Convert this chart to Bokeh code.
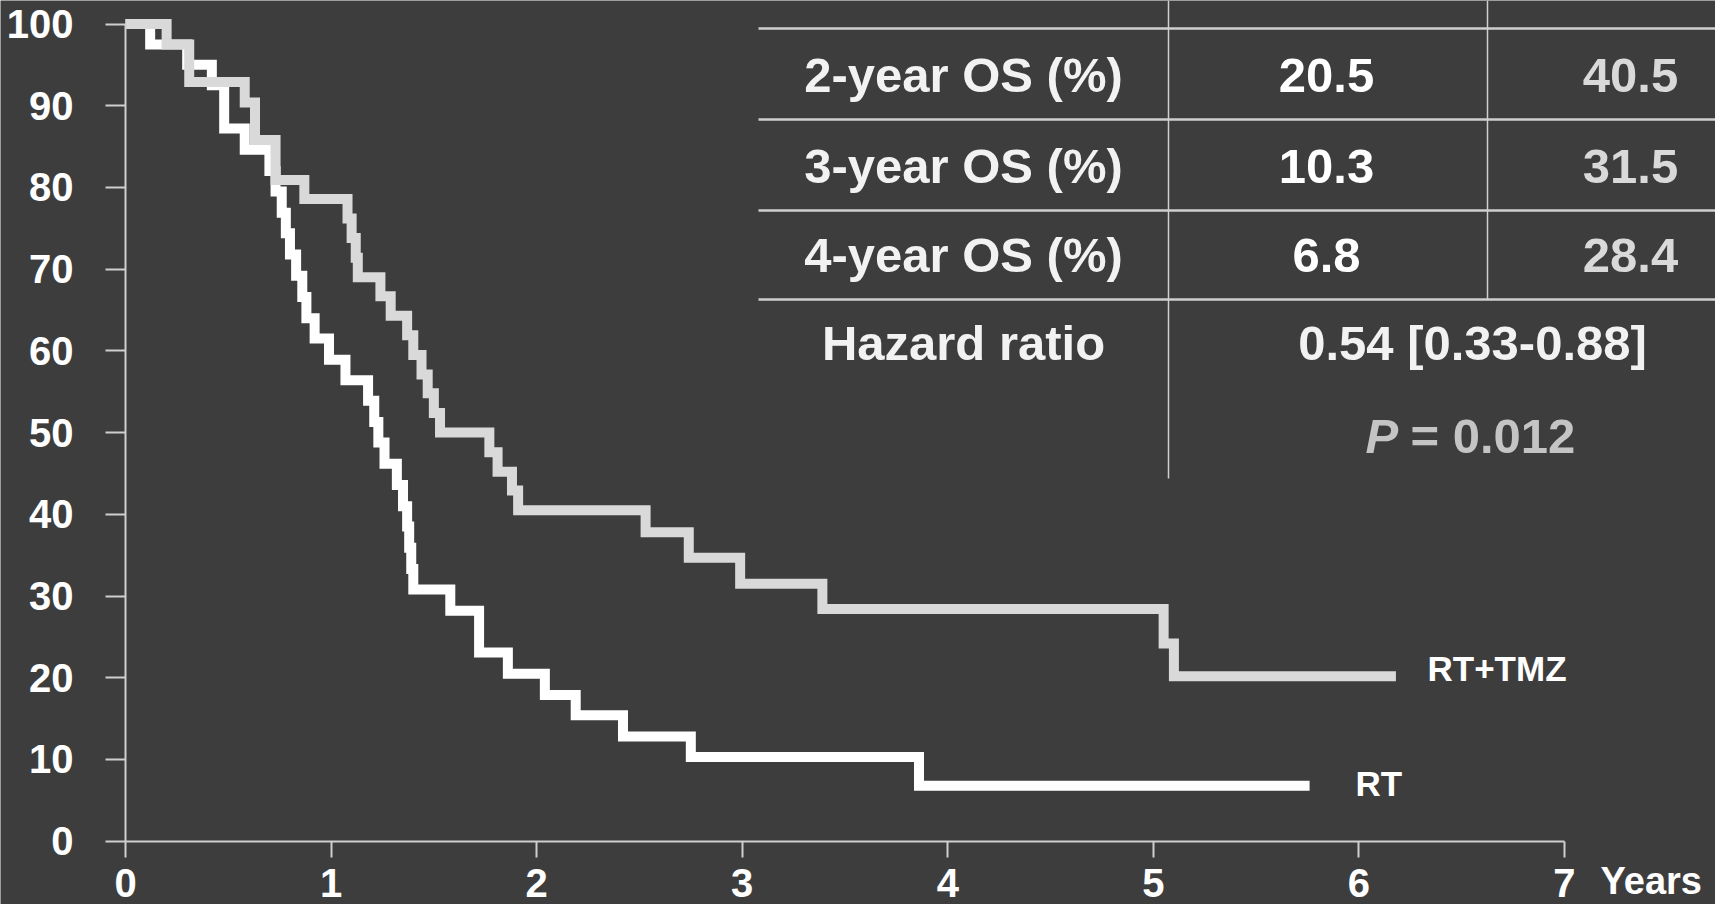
from bokeh.plotting import figure
from bokeh.models import Range1d, LinearAxis, FixedTicker
from bokeh.embed import file_html
from bokeh.resources import INLINE
from bokeh.core.properties import value

# ---------------- data ----------------
series_names = ["RT", "RT+TMZ"]

rt_time = [0, 0.12, 0.30, 0.42, 0.48, 0.58, 0.70, 0.73, 0.76, 0.78, 0.80, 0.83,
           0.86, 0.88, 0.92, 0.99, 1.07, 1.18, 1.21, 1.23, 1.26, 1.32, 1.35, 1.37,
           1.38, 1.39, 1.40, 1.58, 1.72, 1.86, 2.04, 2.19, 2.42, 2.75, 3.86, 5.76]
rt_surv = [100, 97.5, 95.0, 92.5, 87.2, 84.6, 82.0, 79.5, 76.9, 74.4, 71.8, 69.2,
           66.6, 64.0, 61.5, 58.9, 56.4, 53.9, 51.3, 48.8, 46.2, 43.6, 41.0, 38.5,
           35.9, 33.3, 30.8, 28.2, 23.1, 20.5, 17.9, 15.4, 12.8, 10.3, 6.8, 6.8]

tmz_time = [0, 0.20, 0.31, 0.58, 0.63, 0.73, 0.87, 1.08, 1.10, 1.12, 1.13, 1.24,
            1.29, 1.37, 1.40, 1.44, 1.47, 1.50, 1.53, 1.77, 1.81, 1.88, 1.91, 2.53,
            2.74, 2.99, 3.39, 5.05, 5.10, 6.18]
tmz_surv = [100, 97.5, 92.9, 90.4, 85.8, 80.9, 78.6, 76.2, 73.8, 71.4, 69.0, 66.7,
            64.3, 61.9, 59.5, 57.1, 54.8, 52.4, 50.0, 47.6, 45.2, 42.9, 40.5, 37.8,
            34.7, 31.5, 28.4, 24.2, 20.2, 20.2]

x_ticks = [0, 1, 2, 3, 4, 5, 6, 7]
y_ticks = [0, 10, 20, 30, 40, 50, 60, 70, 80, 90, 100]
x_label = "Years"

row_labels = ["2-year OS (%)", "3-year OS (%)", "4-year OS (%)"]
rt_os = ["20.5", "10.3", "6.8"]
tmz_os = ["40.5", "31.5", "28.4"]
hr_label = "Hazard ratio"
hr_text = "0.54 [0.33-0.88]"
p_label = "P"
p_value = "= 0.012"

# ---------------- layout (page pixels) ----------------
PAGE_W, PAGE_H = 1715, 904
X0, PX_PER_YEAR = 125.0, 205.57
Y0, PX_PER_PCT = 840.7, 8.172
BG = "#3d3d3d"
FONT_NAME = "Liberation Sans"
FONT = value(FONT_NAME)
WHITE = "#ffffff"
LIGHT = "#d9d9d9"
LINE = "#cfcfcf"
BASELINE_FIX = 0.355   # rendered baseline sits this many em below the given y

x_range = Range1d((0 - X0) / PX_PER_YEAR, (PAGE_W - X0) / PX_PER_YEAR)
y_range = Range1d((Y0 - PAGE_H) / PX_PER_PCT, (Y0 - 0) / PX_PER_PCT)

p = figure(width=PAGE_W, height=PAGE_H, x_range=x_range, y_range=y_range,
           output_backend="svg", toolbar_location=None,
           x_axis_type=None, y_axis_type=None, min_border=0,
           background_fill_color=BG, border_fill_color=BG, outline_line_color=None)
p.extra_x_ranges = {"px": Range1d(0, PAGE_W)}
p.extra_y_ranges = {"px": Range1d(PAGE_H, 0)}

# ---------------- axes ----------------
def style_axis(ax, tick_out, standoff):
    ax.axis_line_color = LINE
    ax.axis_line_width = 2
    ax.major_tick_line_color = LINE
    ax.major_tick_line_width = 2
    ax.major_tick_out = tick_out
    ax.major_tick_in = 0
    ax.minor_tick_out = 0
    ax.minor_tick_in = 0
    ax.major_label_text_font = FONT_NAME
    ax.major_label_text_font_style = "bold"
    ax.major_label_text_font_size = "40px"
    ax.major_label_text_color = WHITE
    ax.major_label_standoff = standoff

xa = LinearAxis(fixed_location=0, bounds=(x_ticks[0], x_ticks[-1]),
                ticker=FixedTicker(ticks=x_ticks))
style_axis(xa, 16, 12)
p.add_layout(xa, "below")

ya = LinearAxis(fixed_location=0, bounds=(y_ticks[0], y_ticks[-1]),
                ticker=FixedTicker(ticks=y_ticks))
style_axis(ya, 20, 32)
p.add_layout(ya, "left")

# ---------------- curves ----------------
p.step(rt_time, rt_surv, mode="after", line_width=10, line_color=WHITE,
       line_join="miter", line_cap="butt")
p.step(tmz_time, tmz_surv, mode="after", line_width=10, line_color=LIGHT,
       line_join="miter", line_cap="butt")

def ptext(xs, ys, texts, size, color, align="center", style="bold"):
    shift = BASELINE_FIX * size
    p.text(x=xs, y=[y - shift for y in ys], text=texts,
           x_range_name="px", y_range_name="px",
           text_font=FONT, text_font_style=style, text_font_size="%dpx" % size,
           text_color=color, text_align=align, text_baseline="alphabetic")

# curve labels and x label
ptext([1355, 1427], [795, 680], series_names, 35, WHITE, align="left")
ptext([1600], [894], [x_label], 38, WHITE, align="left")

# ---------------- table ----------------
hy = [28, 119, 210, 299]
p.segment(x0=[758] * 4, y0=hy, x1=[PAGE_W] * 4, y1=hy,
          x_range_name="px", y_range_name="px", line_color=LINE, line_width=2.5)
p.segment(x0=[1168, 1487], y0=[0, 0], x1=[1168, 1487], y1=[478, 299],
          x_range_name="px", y_range_name="px", line_color=LINE, line_width=1.5)

row_base = [92, 183, 272]
ptext([963] * 3, row_base, row_labels, 49, "#f2f2f2")
ptext([1326] * 3, row_base, rt_os, 49, WHITE)
ptext([1630] * 3, row_base, tmz_os, 49, LIGHT)
ptext([963], [360], [hr_label], 49, "#f2f2f2")
ptext([1472], [360], [hr_text], 49, "#f2f2f2")
ptext([1365], [453], [p_label], 49, "#c4c4c4", align="left", style="bold italic")
ptext([1410], [453], [p_value], 49, "#c4c4c4", align="left")

html = file_html(p, INLINE)
html = html.replace("<body>", '<body style="background-color:%s;overflow:hidden;">' % BG, 1)
open("out.html", "w").write(html)
